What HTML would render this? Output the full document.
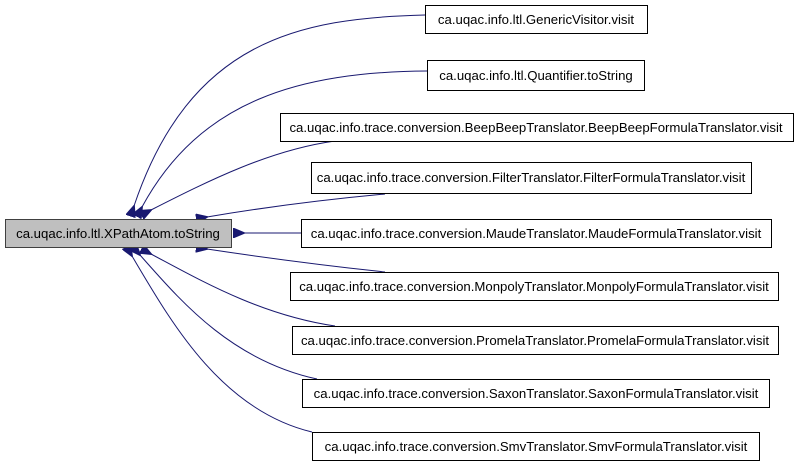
<!DOCTYPE html>
<html><head><style>body{margin:0;background:#fff}svg{display:block}</style></head><body>
<svg width="797" height="467" viewBox="0 0 797 467" xmlns="http://www.w3.org/2000/svg" font-family="Liberation Sans, Arial, sans-serif" font-size="13.2">
<defs><marker id="a" markerWidth="12" markerHeight="10" refX="1" refY="5" orient="auto" markerUnits="userSpaceOnUse"><path d="M12,0 L0,5 L12,10 Z" fill="#191970" stroke="#191970"/></marker></defs>
<g fill="none" stroke="#191970" stroke-width="1" marker-end="url(#a)">
<path d="M425,15 C300,18 190,40 134,206"/>
<path d="M427,71 C300,72 200,100 142,207"/>
<path d="M335,141 C270,150 210,180 151,210"/>
<path d="M385,194 C320,200 260,208 207,217"/>
<path d="M301,233 L244,233"/>
<path d="M385,272 C320,265 260,257 207,249"/>
<path d="M335,326 C260,315 200,280 151,254"/>
<path d="M317,379 C230,360 180,300 140,255"/>
<path d="M312,432 C220,410 170,320 132,256"/>
</g>
<g stroke="#000" stroke-width="1" fill="#fff">
<rect x="5.5" y="219.5" width="226" height="28" fill="#bfbfbf" stroke="#404040"/>
<rect x="425.5" y="5.5" width="222" height="28"/>
<rect x="427.5" y="60.5" width="217" height="30"/>
<rect x="280.5" y="113.5" width="513" height="28"/>
<rect x="311.5" y="162.5" width="440" height="31"/>
<rect x="301.5" y="219.5" width="470" height="28"/>
<rect x="290.5" y="272.5" width="488" height="28"/>
<rect x="292.5" y="326.5" width="486" height="28"/>
<rect x="302.5" y="379.5" width="467" height="28"/>
<rect x="312.5" y="432.5" width="447" height="28"/>
</g>
<g fill="#000" text-anchor="middle">
<text x="118" y="238">ca.uqac.info.ltl.XPathAtom.toString</text>
<text x="536" y="24">ca.uqac.info.ltl.GenericVisitor.visit</text>
<text x="536" y="80">ca.uqac.info.ltl.Quantifier.toString</text>
<text x="536" y="132">ca.uqac.info.trace.conversion.BeepBeepTranslator.BeepBeepFormulaTranslator.visit</text>
<text x="531" y="182">ca.uqac.info.trace.conversion.FilterTranslator.FilterFormulaTranslator.visit</text>
<text x="536" y="238">ca.uqac.info.trace.conversion.MaudeTranslator.MaudeFormulaTranslator.visit</text>
<text x="534" y="291">ca.uqac.info.trace.conversion.MonpolyTranslator.MonpolyFormulaTranslator.visit</text>
<text x="535" y="345">ca.uqac.info.trace.conversion.PromelaTranslator.PromelaFormulaTranslator.visit</text>
<text x="536" y="398">ca.uqac.info.trace.conversion.SaxonTranslator.SaxonFormulaTranslator.visit</text>
<text x="536" y="451">ca.uqac.info.trace.conversion.SmvTranslator.SmvFormulaTranslator.visit</text>
</g>
</svg>
</body></html>
